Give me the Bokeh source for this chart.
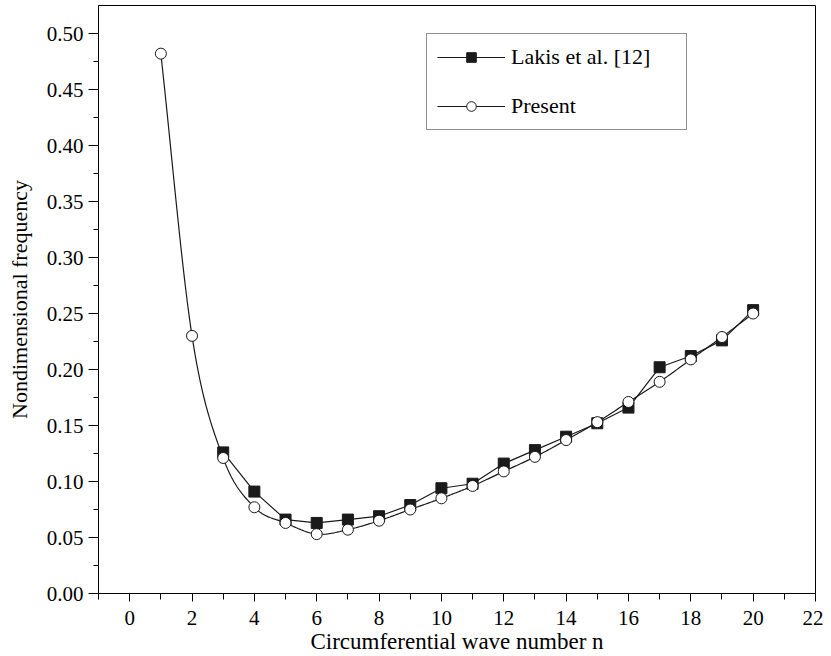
import numpy as np
from bokeh.plotting import figure
from bokeh.models import Range1d, FixedTicker, Legend, LegendItem, PrintfTickFormatter
from bokeh.embed import file_html
from bokeh.resources import INLINE

# ---- data ----
n_present = [1, 2, 3, 4, 5, 6, 7, 8, 9, 10, 11, 12, 13, 14, 15, 16, 17, 18, 19, 20]
present = [0.482, 0.230, 0.121, 0.077, 0.063, 0.053, 0.057, 0.065, 0.075, 0.085,
           0.096, 0.109, 0.122, 0.137, 0.153, 0.171, 0.189, 0.209, 0.229, 0.250]
n_lakis = [3, 4, 5, 6, 7, 8, 9, 10, 11, 12, 13, 14, 15, 16, 17, 18, 19, 20]
lakis = [0.126, 0.091, 0.066, 0.063, 0.066, 0.069, 0.079, 0.094, 0.098, 0.116,
         0.128, 0.140, 0.152, 0.166, 0.202, 0.212, 0.226, 0.253]
x_ticks = [0, 2, 4, 6, 8, 10, 12, 14, 16, 18, 20, 22]
y_ticks = [0.00, 0.05, 0.10, 0.15, 0.20, 0.25, 0.30, 0.35, 0.40, 0.45, 0.50]
legend_labels = ["Lakis et al. [12]", "Present"]
x_label = "Circumferential wave number n"
y_label = "Nondimensional frequency"


def smooth(xs, ys, k=20):
    """Catmull-Rom curve through the given points (for drawing the smooth line)."""
    xs = np.asarray(xs, float)
    ys = np.asarray(ys, float)
    m = np.gradient(ys, xs)
    ox, oy = [], []
    for i in range(len(xs) - 1):
        h = xs[i + 1] - xs[i]
        t = np.linspace(0, 1, k, endpoint=False)
        h00 = 2 * t**3 - 3 * t**2 + 1
        h10 = t**3 - 2 * t**2 + t
        h01 = -2 * t**3 + 3 * t**2
        h11 = t**3 - t**2
        ox.extend(xs[i] + t * h)
        oy.extend(h00 * ys[i] + h10 * h * m[i] + h01 * ys[i + 1] + h11 * h * m[i + 1])
    ox.append(xs[-1])
    oy.append(ys[-1])
    return ox, oy


FONT = "Liberation Serif"

p = figure(frame_width=717, frame_height=588,
           min_border_left=98, min_border_right=8, min_border_top=5, min_border_bottom=50,
           x_range=Range1d(-1, 22), y_range=Range1d(0, 0.525),
           output_backend="svg", toolbar_location=None)
p.grid.visible = False
p.outline_line_color = "black"
p.outline_line_width = 1
p.background_fill_color = "white"
p.border_fill_color = "white"

# lines
l_lakis = p.line(n_lakis, lakis, line_color="#1a1a1a", line_width=1.2)
sx, sy = smooth(n_present, present)
l_pres = p.line(sx, sy, line_color="#1a1a1a", line_width=1.2)

# markers
m_lakis = p.scatter(n_lakis, lakis, marker="square", size=11,
                    fill_color="#1a1a1a", line_color="#1a1a1a")
m_pres = p.scatter(n_present, present, marker="circle", size=11,
                   fill_color="white", line_color="#1a1a1a", line_width=1)

# axes
p.xaxis.ticker = FixedTicker(ticks=x_ticks, minor_ticks=list(range(-1, 23, 2)))
p.yaxis.ticker = FixedTicker(ticks=y_ticks,
                             minor_ticks=[round(0.025 + 0.05 * i, 3) for i in range(10)])
p.yaxis.formatter = PrintfTickFormatter(format="%.2f")

for ax in (p.xaxis[0], p.yaxis[0]):
    ax.axis_line_color = "black"
    ax.major_tick_line_color = "black"
    ax.minor_tick_line_color = "black"
    ax.major_tick_in = 0
    ax.minor_tick_in = 0
    ax.major_label_text_font = FONT
    ax.major_label_text_font_size = "21px"
    ax.major_label_text_font_style = "normal"
    ax.major_label_text_color = "black"
    ax.axis_label_text_font = FONT
    ax.axis_label_text_font_style = "normal"
    ax.axis_label_text_color = "black"

p.xaxis.major_tick_out = 8
p.xaxis.minor_tick_out = 6
p.xaxis.major_label_standoff = 9
p.xaxis.axis_label_standoff = 1
p.xaxis.axis_label_text_font_size = "23px"
p.xaxis.axis_label = x_label

p.yaxis.major_tick_out = 10
p.yaxis.minor_tick_out = 5
p.yaxis.major_label_standoff = 5
p.yaxis.axis_label_standoff = 12
p.yaxis.axis_label_text_font_size = "22px"
p.yaxis.axis_label = y_label

legend = Legend(items=[LegendItem(label=legend_labels[0], renderers=[l_lakis, m_lakis]),
                       LegendItem(label=legend_labels[1], renderers=[l_pres, m_pres])],
                location=(328, 463))
legend.glyph_width = 68
legend.glyph_height = 24
legend.label_width = 165
legend.label_text_font = FONT
legend.label_text_font_size = "22px"
legend.label_text_font_style = "normal"
legend.label_text_color = "black"
legend.label_standoff = 6
legend.spacing = 23
legend.padding = 10
legend.margin = 0
legend.border_line_color = "#222"
legend.border_line_width = 1
legend.background_fill_alpha = 1
p.add_layout(legend)

open("out.html", "w").write(file_html(p, INLINE))
